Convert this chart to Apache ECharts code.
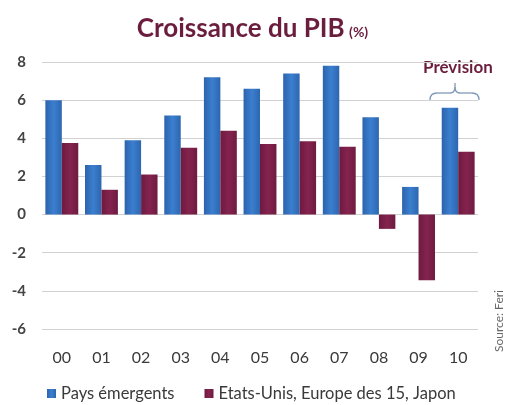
<!DOCTYPE html>
<html lang="fr">
<head>
<meta charset="utf-8">
<script src="https://cdn.jsdelivr.net/npm/echarts@6/dist/echarts.min.js"></script>
<style>
    html, body { margin: 0; padding: 0; background: #fff; }
    #main { width: 505px; height: 405px; }
</style>
</head>
<body>
<div id="main"></div>
<script>
    var years = ['00', '01', '02', '03', '04', '05', '06', '07', '08', '09', '10'];
    var emergents = [6.0, 2.6, 3.9, 5.2, 7.2, 6.6, 7.4, 7.8, 5.1, 1.45, 5.6];
    var developpes = [3.75, 1.3, 2.1, 3.5, 4.4, 3.7, 3.85, 3.55, -0.75, -3.45, 3.3];
    var yTicks = [-6, -4, -2, 0, 2, 4, 6, 8];

    var font = 'Lato';
    var blue = new echarts.graphic.LinearGradient(0, 0, 1, 0, [
        { offset: 0, color: '#2c63ad' },
        { offset: 0.5, color: '#3b7fcf' },
        { offset: 1, color: '#2d66b0' }
    ]);
    var maroon = new echarts.graphic.LinearGradient(0, 0, 1, 0, [
        { offset: 0, color: '#6e1a3f' },
        { offset: 0.5, color: '#84234f' },
        { offset: 1, color: '#6f1b40' }
    ]);

    // curly brace over the forecast year
    var braceStyle = { stroke: '#7f98b8', lineWidth: 1.3, fill: null };
    function seg(x1, y1, x2, y2) {
        return { type: 'line', shape: { x1: x1, y1: y1, x2: x2, y2: y2 }, style: braceStyle };
    }
    function curve(x1, y1, cx, cy, x2, y2) {
        return { type: 'bezierCurve', shape: { x1: x1, y1: y1, cpx1: cx, cpy1: cy, x2: x2, y2: y2 }, style: braceStyle };
    }
    var brace = [
        curve(430, 100, 430, 93, 437, 93),
        seg(437, 93, 450, 93),
        curve(450, 93, 455, 93, 455, 87),
        seg(455, 87, 455, 83),
        curve(455, 87, 455, 93, 460, 93),
        seg(460, 93, 472, 93),
        curve(472, 93, 479, 93, 479, 100)
    ];

    var chart = echarts.init(document.getElementById('main'));
    chart.setOption({
        animation: false,
        textStyle: { fontFamily: font },
        title: {
            text: '{a|Croissance du PIB} {b|(%)}',
            left: 'center',
            top: 11,
            textStyle: {
                rich: {
                    a: { fontFamily: font, fontSize: 26, fontWeight: 'bold', color: '#6b1d3e' },
                    b: { fontFamily: font, fontSize: 14, fontWeight: 'bold', color: '#6b1d3e', padding: [7, 0, 0, 0] }
                }
            }
        },
        legend: {
            top: 380,
            left: 42,
            itemWidth: 9,
            itemHeight: 9,
            itemGap: 30,
            icon: 'rect',
            textStyle: { fontFamily: font, fontSize: 16.5, color: '#3a3a3a' },
            data: ['Pays émergents', 'Etats-Unis, Europe des 15, Japon']
        },
        grid: { left: 42, right: 27, top: 62, bottom: 76 },
        xAxis: {
            type: 'category',
            data: years,
            axisLine: { show: false, onZero: false },
            axisTick: { show: false },
            axisLabel: { fontFamily: font, fontSize: 16, color: '#3a3a3a', margin: 21 }
        },
        yAxis: {
            type: 'value',
            min: yTicks[0],
            max: yTicks[yTicks.length - 1],
            interval: 2,
            axisLine: { show: false },
            axisTick: { show: false },
            axisLabel: { fontFamily: font, fontSize: 15, fontWeight: 'bold', color: '#444', margin: 16 },
            splitLine: { lineStyle: { color: '#d2d2d2', width: 1 } }
        },
        color: ['#3476c4', '#7c1f48'],
        series: [
            {
                name: 'Pays émergents',
                type: 'bar',
                data: emergents,
                barGap: 0,
                barCategoryGap: '17%',
                itemStyle: { color: blue }
            },
            {
                name: 'Etats-Unis, Europe des 15, Japon',
                type: 'bar',
                data: developpes,
                itemStyle: { color: maroon }
            }
        ],
        graphic: [
            {
                type: 'text',
                x: 423,
                y: 59,
                style: { text: 'Prévision', fontFamily: font, fontSize: 17, fontWeight: 'bold', fill: '#6b1d3e' }
            },
            {
                type: 'text',
                x: 499,
                y: 352,
                rotation: Math.PI / 2,
                style: { text: 'Source: Feri', fontFamily: font, fontSize: 12, fill: '#666', align: 'left', verticalAlign: 'middle' }
            }
        ].concat(brace)
    });
</script>
</body>
</html>
